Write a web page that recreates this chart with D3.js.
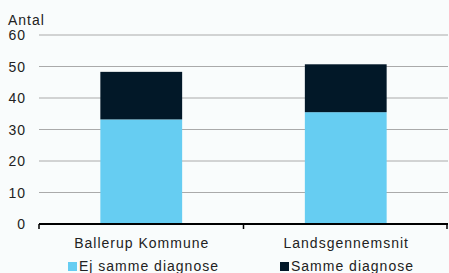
<!DOCTYPE html>
<meta charset="utf-8">
<style>
body { margin: 0; background: #f9fcfc; }
* { font-family: "Liberation Sans", Arial, sans-serif; }
text { letter-spacing: 1px; }
</style>
<body>
<script src="https://cdn.jsdelivr.net/npm/d3@7"></script>
<script>

var categories = ["Ballerup Kommune", "Landsgennemsnit"];
var seriesNames = ["Ej samme diagnose", "Samme diagnose"];
var ejSamme = [33.2, 35.5];
var samme = [15.1, 15.2];
var yTicks = [0, 10, 20, 30, 40, 50, 60];
var colors = ["#66cdf2", "#021828"];

var margin = {top: 35, right: 1, bottom: 49, left: 39},
    width = 449 - margin.left - margin.right,
    height = 273 - margin.top - margin.bottom;

var x = d3.scaleBand().domain(categories).range([0, width]).paddingInner(0.6).paddingOuter(0.3);
var y = d3.scaleLinear().domain([0, 60]).range([height, 0]);

var svg = d3.select("body").append("svg")
    .attr("width", 449)
    .attr("height", 273)
  .append("g")
    .attr("transform", "translate(" + margin.left + "," + margin.top + ")");

// gridlines
svg.selectAll(".grid").data(yTicks.slice(1)).enter().append("line")
    .attr("x1", 0).attr("x2", width)
    .attr("y1", function(d) { return y(d); })
    .attr("y2", function(d) { return y(d); })
    .attr("stroke", "#aaaaaa").attr("stroke-width", 1);

// stack data
var rows = categories.map(function(c, i) {
  return {cat: c, "Ej samme diagnose": ejSamme[i], "Samme diagnose": samme[i]};
});
var stacked = d3.stack().keys(seriesNames)(rows);

svg.selectAll(".series").data(stacked).enter().append("g")
    .attr("fill", function(d, i) { return colors[i]; })
  .selectAll("rect").data(function(d) { return d; }).enter().append("rect")
    .attr("x", function(d) { return x(d.data.cat); })
    .attr("width", x.bandwidth())
    .attr("y", function(d) { return y(d[1]); })
    .attr("height", function(d) { return y(d[0]) - y(d[1]); });

// y labels
svg.selectAll(".ylab").data(yTicks).enter().append("text")
    .attr("x", -13).attr("y", function(d) { return y(d) + 5; })
    .attr("text-anchor", "end")
    .attr("font-size", "14px").attr("fill", "#222")
    .text(function(d) { return d; });

svg.append("text")
    .attr("x", -31).attr("y", -10)
    .attr("font-size", "14px").attr("fill", "#222")
    .text("Antal");

// x axis
svg.append("line")
    .attr("x1", 0).attr("x2", width)
    .attr("y1", height).attr("y2", height)
    .attr("stroke", "#000").attr("stroke-width", 2);
[0, width / 2, width - 1].forEach(function(t) {
  svg.append("line")
      .attr("x1", t).attr("x2", t)
      .attr("y1", height).attr("y2", height + 5)
      .attr("stroke", "#000").attr("stroke-width", 1.5);
});

svg.selectAll(".xlab").data(categories).enter().append("text")
    .attr("x", function(d) { return x(d) + x.bandwidth() / 2 + 0.5; })
    .attr("y", height + 24)
    .attr("text-anchor", "middle")
    .attr("font-size", "14px").attr("fill", "#222")
    .text(function(d) { return d; });

// legend
var legendX = [29, 241];
var legend = svg.selectAll(".legend").data(seriesNames).enter().append("g")
    .attr("transform", function(d, i) { return "translate(" + legendX[i] + "," + (height + 38) + ")"; });
legend.append("rect")
    .attr("width", 9).attr("height", 9)
    .attr("fill", function(d, i) { return colors[i]; });
legend.append("text")
    .attr("x", 11).attr("y", 9)
    .attr("font-size", "14px").attr("fill", "#222")
    .text(function(d) { return d; });

</script>
</body>
</html>
